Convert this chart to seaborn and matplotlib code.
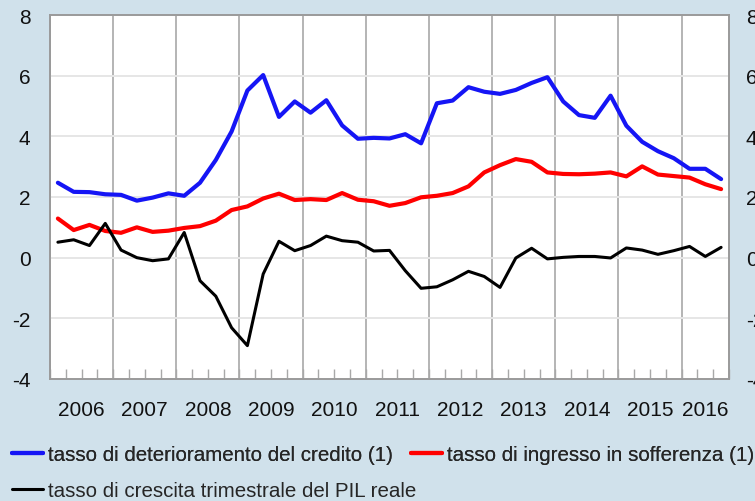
import numpy as np
import pandas as pd
import seaborn as sns
import matplotlib
matplotlib.use("Agg")
import matplotlib.pyplot as plt
from matplotlib.ticker import MultipleLocator

# quarterly data, 2006Q1 - 2016Q3
quarters = pd.period_range("2006Q1", "2016Q3", freq="Q")

deterioramento = [2.47, 2.17, 2.16, 2.09, 2.07, 1.88, 1.98, 2.12, 2.04, 2.47,
                  3.22, 4.16, 5.51, 6.02, 4.64, 5.15, 4.78, 5.19, 4.36, 3.92,
                  3.95, 3.93, 4.07, 3.77, 5.09, 5.18, 5.62, 5.47, 5.40, 5.53,
                  5.76, 5.95, 5.15, 4.70, 4.61, 5.34, 4.35, 3.82, 3.51, 3.28,
                  2.93, 2.93, 2.59]
sofferenza = [1.29, 0.91, 1.08, 0.88, 0.82, 1.00, 0.85, 0.89, 0.98, 1.04,
              1.22, 1.57, 1.69, 1.95, 2.11, 1.90, 1.93, 1.90, 2.13, 1.91,
              1.86, 1.71, 1.80, 1.99, 2.04, 2.13, 2.35, 2.81, 3.05, 3.25,
              3.16, 2.81, 2.76, 2.75, 2.77, 2.81, 2.68, 3.01, 2.74, 2.69,
              2.64, 2.42, 2.26]
pil = [0.51, 0.59, 0.40, 1.13, 0.25, 0.00, -0.10, -0.04, 0.83, -0.76,
       -1.27, -2.31, -2.90, -0.54, 0.54, 0.23, 0.40, 0.71, 0.56, 0.51,
       0.22, 0.24, -0.43, -1.01, -0.96, -0.73, -0.45, -0.62, -0.98, -0.01,
       0.31, -0.04, 0.01, 0.04, 0.04, -0.01, 0.32, 0.25, 0.11, 0.23,
       0.37, 0.04, 0.34]

labels = ["tasso di deterioramento del credito (1)",
          "tasso di ingresso in sofferenza (1)",
          "tasso di crescita trimestrale del PIL reale"]
year_labels = [str(y) for y in range(2006, 2017)]

# position each quarter at its midpoint on a fractional-year axis
x = quarters.year + (quarters.quarter - 1) / 4 + 0.125
df = pd.DataFrame({"x": x, "det": deterioramento, "sof": sofferenza, "pil": pil})

sns.set_theme(style="white")
plt.rcParams["font.family"] = ["Liberation Sans", "DejaVu Sans"]
plt.rcParams["axes.unicode_minus"] = False

bg = "#d0e1eb"
fig = plt.figure(figsize=(7.55, 5.02), dpi=100, facecolor=bg)
ax = fig.add_axes([50 / 755, 122 / 502, 679 / 755, 364 / 502])
ax.set_facecolor("white")

sns.lineplot(data=df, x="x", y="det", ax=ax, color="#1515f5", lw=3.0, label=labels[0])
sns.lineplot(data=df, x="x", y="sof", ax=ax, color="#ff0000", lw=3.0, label=labels[1])
sns.lineplot(data=df, x="x", y="pil", ax=ax, color="black", lw=2.2, label=labels[2])

ax.set_xlim(2006, 2016.75)
ax.set_ylim(-4, 8)
ax.set_xlabel("")
ax.set_ylabel("")

# y axis both sides (right labels run off the edge, as in the original)
ax.yaxis.set_major_locator(MultipleLocator(2))
ax.tick_params(axis="y", length=0, pad=14, labelsize=15, colors="#111111")
ax.grid(axis="y", color="#e6e6e6", lw=1.4)

ax2 = ax.twinx()
ax2.set_ylim(ax.get_ylim())
ax2.yaxis.set_major_locator(MultipleLocator(2))
ax2.tick_params(axis="y", length=0, pad=12, labelsize=15, colors="#111111")
ax2.grid(False)

# x axis: year boundaries with grid, quarter ticks inward
ax.xaxis.set_major_locator(MultipleLocator(1))
ax.xaxis.set_minor_locator(MultipleLocator(0.25))
ax.tick_params(axis="x", which="both", direction="in", length=7, width=1,
               color="#a8a8a8", labelbottom=False, bottom=True)
ax.grid(axis="x", which="major", color="#a0a0a0", lw=1.1)

# year labels centred on the visible part of each year
sec = ax.secondary_xaxis("bottom")
mids = [min(y + 1, 2016.75) / 2 + y / 2 for y in range(2006, 2017)]
sec.set_xticks(mids, year_labels)
sec.tick_params(length=0, pad=15, labelsize=15, colors="#111111")
sec.spines["bottom"].set_visible(False)

for a in (ax, ax2):
    for s in a.spines.values():
        s.set_color("#9a9a9a")
        s.set_linewidth(1.2)

# legend: two series on the first row, GDP on the second
ax.legend().remove()
handles, labs = ax.get_legend_handles_labels()
leg_kw = dict(loc="upper left", frameon=False, fontsize=14.8, handlelength=1.5,
              handletextpad=0.25, columnspacing=0.9, borderpad=0, borderaxespad=0)
leg1 = fig.legend(handles[:2], labs[:2], ncol=2,
                  bbox_to_anchor=(12 / 755, 1 - 446 / 502), **leg_kw)
fig.legend(handles[2:], labs[2:], ncol=1,
           bbox_to_anchor=(12 / 755, 1 - 482 / 502), **leg_kw)
fig.add_artist(leg1)

fig.savefig("out.png", dpi=100, facecolor=bg)
